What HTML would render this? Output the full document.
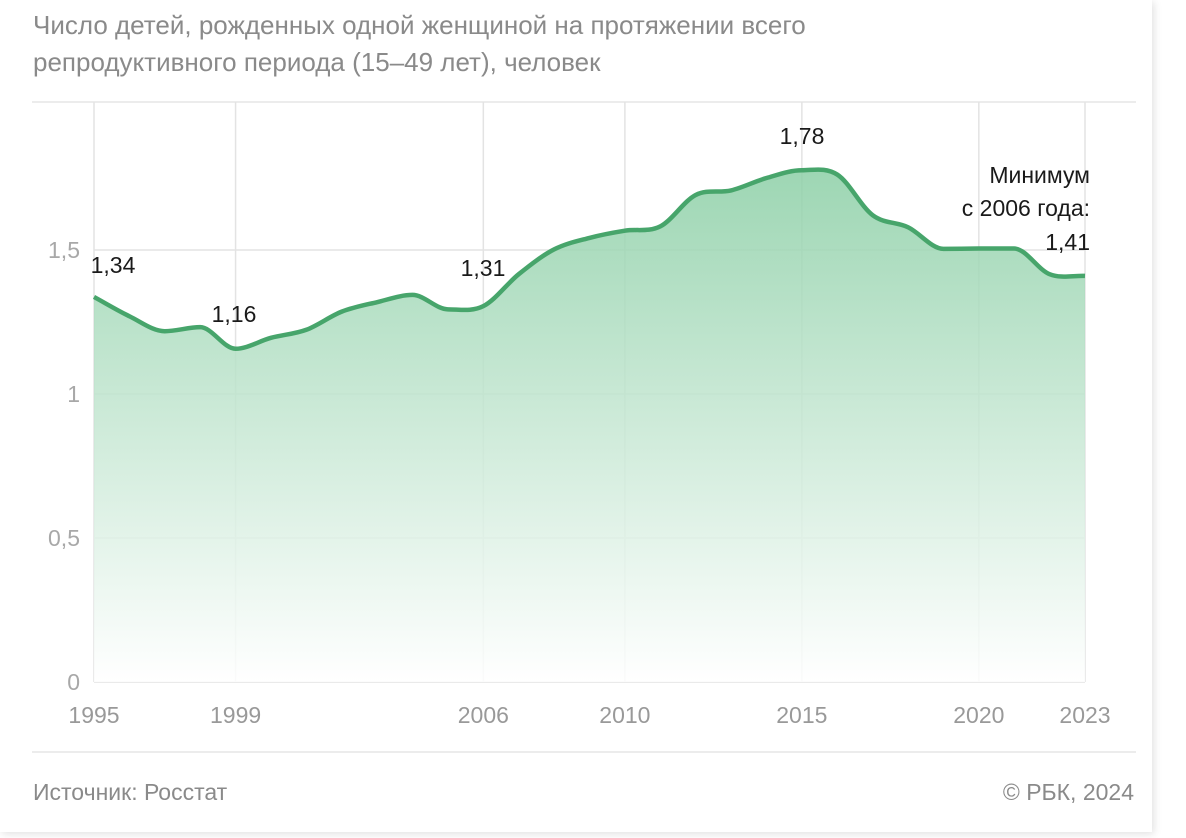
<!DOCTYPE html>
<html><head><meta charset="utf-8"><style>
body{margin:0;background:#fff;width:1186px;height:838px;overflow:hidden;font-family:"Liberation Sans",sans-serif}
.card{position:absolute;left:0;top:0;width:1152px;height:832px;background:#fff;box-shadow:2px 2px 8px rgba(0,0,0,0.12)}
.title{position:absolute;left:33px;top:7px;font-size:26px;line-height:37px;color:#8a8a8a}
</style></head><body>
<div class="card"></div>
<div class="title">Число детей, рожденных одной женщиной на протяжении всего<br>репродуктивного периода (15–49 лет), человек</div>
<svg id="c" width="1186" height="838" style="position:absolute;left:0;top:0">
<defs><linearGradient id="g" x1="0" y1="0" x2="0" y2="1"><stop offset="0" stop-color="#8ccfa6"/><stop offset="1" stop-color="#ffffff"/></linearGradient></defs>
</svg>
<script>
const years=[1995,1996,1997,1998,1999,2000,2001,2002,2003,2004,2005,2006,2007,2008,2009,2010,2011,2012,2013,2014,2015,2016,2017,2018,2019,2020,2021,2022,2023];
const values=[1.337,1.27,1.218,1.232,1.157,1.195,1.223,1.286,1.319,1.344,1.294,1.305,1.416,1.502,1.542,1.567,1.582,1.691,1.707,1.75,1.777,1.762,1.621,1.579,1.504,1.505,1.505,1.416,1.41];
const xTicks=[1995,1999,2006,2010,2015,2020,2023];
const yTicks=[0,0.5,1,1.5];
const yTickLabels=["0","0,5","1","1,5"];
const svg=document.getElementById('c');const NS='http://www.w3.org/2000/svg';
const X=y=>94+(y-1995)*(1085-94)/28;const Y=v=>682-v*288;
function mk(t,a,p){const e=document.createElementNS(NS,t);for(const k in a)e.setAttribute(k,a[k]);(p||svg).appendChild(e);return e;}
let e;
e=mk('line',{x1:32,x2:1136,y1:102,y2:102,stroke:'#e6e6e6','stroke-width':1.5});
e=mk('line',{x1:32,x2:1136,y1:752,y2:752,stroke:'#e6e6e6','stroke-width':1.5});
yTicks.forEach((v,i)=>{
 e=mk('line',{x1:94,x2:1085,y1:Y(v),y2:Y(v),stroke:'#e3e3e3','stroke-width':1.5});
 e=mk('text',{x:80,y:Y(v)+8,'text-anchor':'end','font-size':23,fill:'#a8a8a8'});e.textContent=yTickLabels[i];
});
xTicks.forEach(y=>{
 e=mk('line',{x1:X(y),x2:X(y),y1:102,y2:682,stroke:'#e3e3e3','stroke-width':1.5});
 e=mk('text',{x:X(y),y:723,'text-anchor':'middle','font-size':23,fill:'#999'});e.textContent=y;
});
const P=years.map((y,i)=>[X(y),Y(values[i])]);const n=P.length;
const d=[],m=[];for(let i=0;i<n-1;i++)d.push((P[i+1][1]-P[i][1])/(P[i+1][0]-P[i][0]));
m[0]=d[0];m[n-1]=d[n-2];for(let i=1;i<n-1;i++)m[i]=d[i-1]*d[i]<=0?0:(d[i-1]+d[i])/2;
let path=`M${P[0][0]},${P[0][1]}`;
for(let i=0;i<n-1;i++){const h=(P[i+1][0]-P[i][0])/3;path+=` C${P[i][0]+h},${P[i][1]+m[i]*h} ${P[i+1][0]-h},${P[i+1][1]-m[i+1]*h} ${P[i+1][0]},${P[i+1][1]}`;}
e=mk('path',{d:path+` L${P[n-1][0]},682 L${P[0][0]},682 Z`,fill:'url(#g)',opacity:0.85});
e=mk('path',{d:path,fill:'none',stroke:'#47a56b','stroke-width':4.5,'stroke-linejoin':'round'});
const labels=[[0,'1,34',113,273],[4,'1,16',234,322],[11,'1,31',483,276],[20,'1,78',802,144]];
labels.forEach(l=>{e=mk('text',{x:l[2],y:l[3],'text-anchor':'middle','font-size':23,fill:'#1a1a1a'});e.textContent=l[1];});
[['Минимум',183],['с 2006 года:',216],['1,41',250]].forEach(a=>{e=mk('text',{x:1090,y:a[1],'text-anchor':'end','font-size':23,fill:'#1a1a1a'});e.textContent=a[0];});
e=mk('text',{x:33,y:800,'font-size':23,fill:'#8a8a8a'});e.textContent='Источник: Росстат';
e=mk('text',{x:1134,y:800,'text-anchor':'end','font-size':23,fill:'#8a8a8a'});e.textContent='© РБК, 2024';
</script>
</body></html>
